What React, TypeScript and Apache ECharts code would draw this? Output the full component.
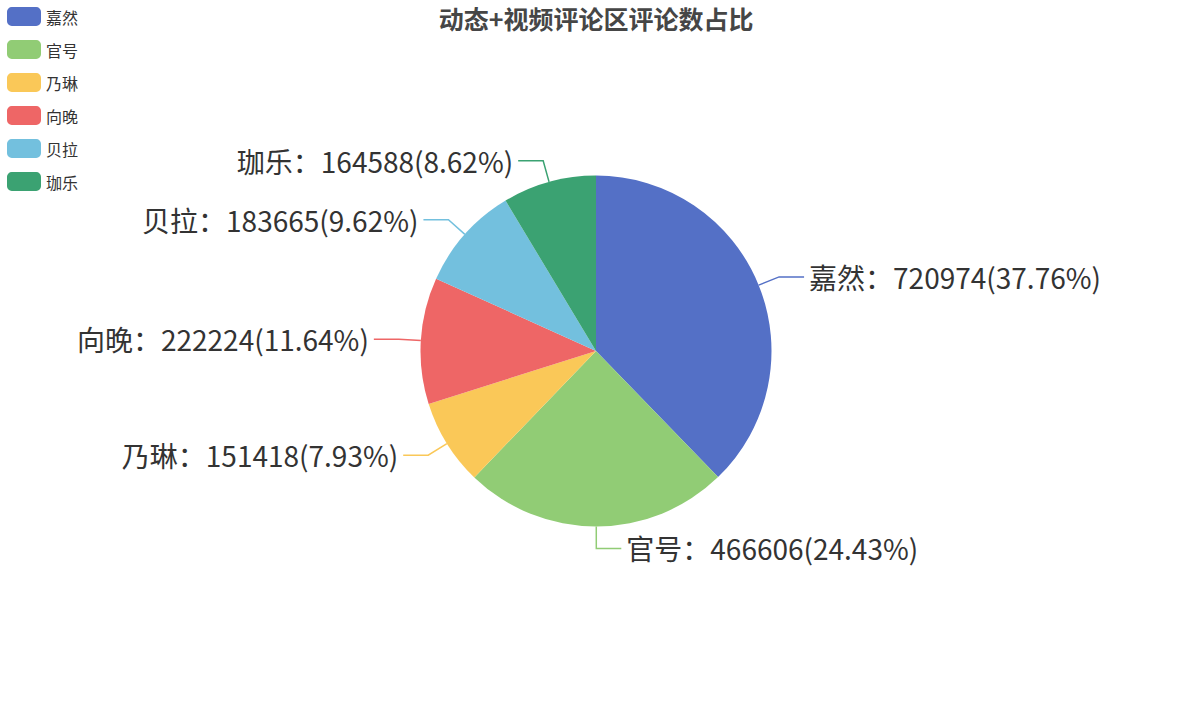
import React, { useEffect, useRef } from 'react';
import * as echarts from 'echarts';

const names = ['嘉然', '官号', '乃琳', '向晚', '贝拉', '珈乐'];
const counts = [720974, 466606, 151418, 222224, 183665, 164588];
const colors = ['#5470c6', '#91cc75', '#fac858', '#ee6666', '#73c0de', '#3ba272'];

const FONT = '"Noto Sans CJK SC", "Noto Sans", sans-serif';

const App = () => {
  const chartRef = useRef(null);

  useEffect(() => {
    document.body.style.margin = '0';
    if (!chartRef.current) return;
    const chart = echarts.init(chartRef.current, null, { renderer: 'svg' });

    chart.setOption({
      animation: false,
      color: colors,
      textStyle: { fontFamily: FONT },
      title: {
        text: '动态+视频评论区评论数占比',
        left: 'center',
        top: 0,
        textStyle: { fontSize: 25, fontWeight: 'bold', color: '#464646', fontFamily: FONT },
      },
      legend: {
        orient: 'vertical',
        left: 2,
        top: 2,
        itemWidth: 34,
        itemHeight: 19,
        itemGap: 14,
        textStyle: { fontSize: 16, color: '#333' },
      },
      series: [
        {
          type: 'pie',
          center: ['50%', '50%'],
          radius: '50%',
          data: names.map((n, i) => ({ name: n, value: counts[i] })),
          label: {
            formatter: '{b}：{c}({d}%)',
            fontSize: 28,
            color: '#333',
            textBorderColor: '#fff',
            textBorderWidth: 2,
          },
          labelLine: { length: 22, length2: 25, lineStyle: { width: 1.5 } },
        },
      ],
    });

    return () => {
      chart.dispose();
    };
  }, []);

  return <div ref={chartRef} style={{ width: 1192, height: 702 }} />;
};

export default App;
